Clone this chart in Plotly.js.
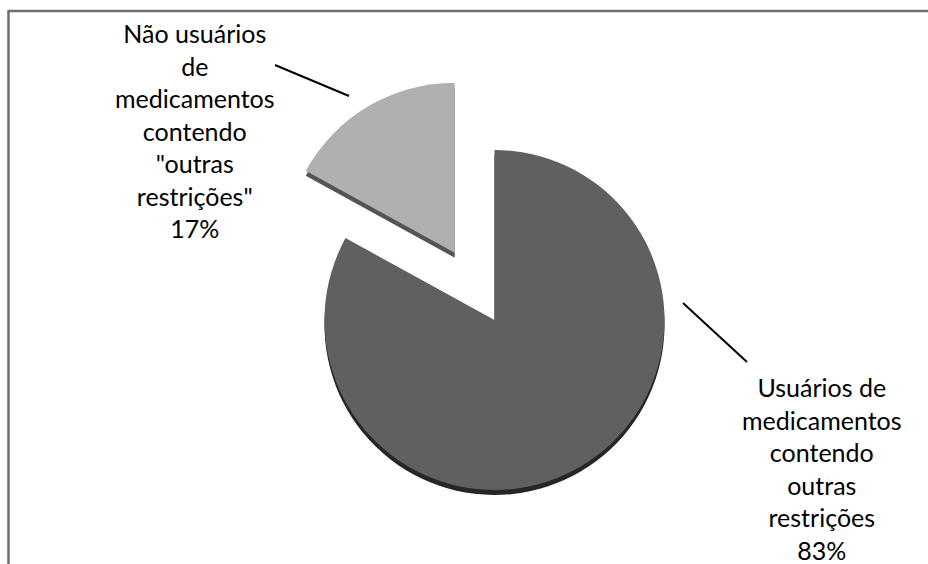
<!DOCTYPE html>
<html>
<head>
<meta charset="utf-8">
<script src="https://cdn.plot.ly/plotly-3.0.1.min.js"></script>
<style>html,body{margin:0;padding:0;background:#fff;overflow:hidden}#chart{width:928px;height:640px}</style>
</head>
<body>
<div id="chart"></div>
<script>
// Data
var categories = ['Usuários de medicamentos contendo outras restrições', 'Não usuários de medicamentos contendo "outras restrições"'];
var labelLines = [
  ['Usuários de', 'medicamentos', 'contendo', 'outras', 'restrições'],
  ['Não usuários', 'de', 'medicamentos', 'contendo', '"outras', 'restrições"']
];
var values = [83, 17];
var percentLabels = ['83%', '17%'];

// Styles
var topColors = ['#606060', '#b0b0b0'];
var sideColors = ['#262626', '#545454'];
var pulls = [0, 0.46];

// The figure is taller than the 564px window; the bottom is cropped like the reference.
var W = 928, H = 640;
var r = 170, cx = 494.5, cy = 320, depth = 5;
var box = 2 * r * (1 + pulls[1]);
var xd = [(cx - box / 2) / W, (cx + box / 2) / W];
var yMain = [(H - cy - box / 2) / H, (H - cy + box / 2) / H];
var ySide = [yMain[0] - depth / H, yMain[1] - depth / H];

var common = {
  type: 'pie', values: values, labels: categories, sort: false,
  direction: 'clockwise', rotation: 0, pull: pulls,
  textinfo: 'none', hoverinfo: 'skip', showlegend: false
};

var side = Object.assign({}, common, {
  domain: {x: xd, y: ySide},
  marker: {colors: sideColors, line: {width: 0}}
});
var top_ = Object.assign({}, common, {
  domain: {x: xd, y: yMain},
  marker: {colors: topColors, line: {width: 0}}
});

var font = {family: 'Lato, "Open Sans", sans-serif', size: 25, color: '#000'};
var annPos = [[822, 468], [195, 130]];
var annotations = values.map(function (v, i) {
  return {
    xref: 'paper', yref: 'paper', x: annPos[i][0] / W, y: 1 - annPos[i][1] / H,
    xanchor: 'center', yanchor: 'middle', showarrow: false, align: 'center',
    text: labelLines[i].concat([percentLabels[i]]).join('<br>'), font: font
  };
});

function px(x) { return x / W; }
function py(y) { return 1 - y / H; }
var shapes = [
  {type: 'line', xref: 'paper', yref: 'paper', x0: px(8.5), y0: py(11), x1: px(928), y1: py(11), line: {color: '#6e6e6e', width: 2.5}},
  {type: 'line', xref: 'paper', yref: 'paper', x0: px(8.5), y0: py(10), x1: px(8.5), y1: py(H), line: {color: '#6e6e6e', width: 2.5}},
  {type: 'line', xref: 'paper', yref: 'paper', x0: px(275), y0: py(65), x1: px(349), y1: py(96), line: {color: '#000', width: 2}},
  {type: 'line', xref: 'paper', yref: 'paper', x0: px(683), y0: py(303), x1: px(747), y1: py(362), line: {color: '#000', width: 2}}
];

Plotly.newPlot('chart', [side, top_], {
  width: W, height: H,
  margin: {l: 0, r: 0, t: 0, b: 0},
  paper_bgcolor: '#fff', plot_bgcolor: '#fff',
  annotations: annotations, shapes: shapes
}, {staticPlot: true});
</script>
</body>
</html>
